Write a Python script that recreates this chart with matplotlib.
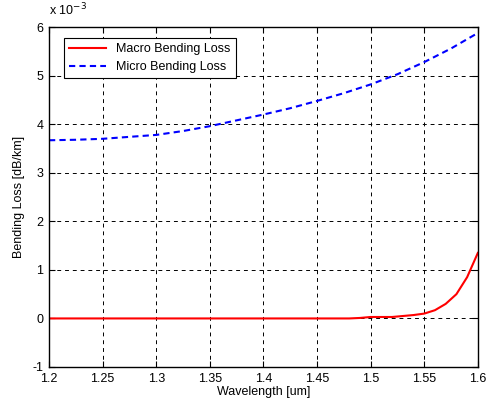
import numpy as np
import matplotlib.pyplot as plt

plt.rcParams['font.family'] = ['Liberation Sans', 'DejaVu Sans']
plt.rcParams['font.size'] = 9
plt.rcParams['axes.unicode_minus'] = False

# values in units of 1e-3 dB/km
micro_wl = [1.2, 1.225, 1.25, 1.275, 1.3, 1.325, 1.35, 1.375, 1.4, 1.425,
            1.45, 1.475, 1.5, 1.525, 1.55, 1.575, 1.6]
micro_loss = [3.67, 3.68, 3.70, 3.74, 3.78, 3.86, 3.96, 4.08, 4.20, 4.33,
              4.48, 4.64, 4.82, 5.03, 5.28, 5.56, 5.88]

macro_wl = [1.2, 1.48, 1.49, 1.5, 1.51, 1.52, 1.53, 1.54, 1.55, 1.56,
            1.57, 1.58, 1.59, 1.6]
macro_loss = [0, 0, 0.01, 0.03, 0.03, 0.03, 0.05, 0.07, 0.10, 0.17,
              0.30, 0.50, 0.85, 1.35]

fig = plt.figure(figsize=(4.89, 4.08), dpi=100)
ax = fig.add_axes([0.1002, 0.1005, 0.877, 0.833])

ax.plot(macro_wl, macro_loss, '-', color='red', lw=1.5, label='Macro Bending Loss')
ax.plot(micro_wl, micro_loss, '--', color='blue', lw=1.5, dashes=(3, 2),
        label='Micro Bending Loss')

ax.set_xlim(1.2, 1.6)
ax.set_ylim(-1, 6)
ax.set_xticks(np.arange(1.2, 1.6001, 0.05))
ax.set_xticklabels(['1.2', '1.25', '1.3', '1.35', '1.4', '1.45', '1.5', '1.55', '1.6'])
ax.set_yticks(range(-1, 7))
ax.grid(True, color='black', linestyle=(0, (4, 4)), lw=0.7)
ax.tick_params(direction='in', top=True, right=True, length=4, pad=4)
for s in ax.spines.values():
    s.set_linewidth(1.0)

ax.set_xlabel('Wavelength [um]', labelpad=1)
ax.set_ylabel('Bending Loss [dB/km]', labelpad=5)
ax.text(0.0, 1.025, r'x 10$^{-3}$', transform=ax.transAxes, ha='left', va='bottom')

leg = ax.legend(loc='upper left', bbox_to_anchor=(0.02, 0.985), fancybox=False,
                edgecolor='black', framealpha=1, handlelength=3.0,
                borderpad=0.4, labelspacing=0.45, borderaxespad=0.5)
leg.get_frame().set_linewidth(0.8)

fig.savefig('out.png', dpi=100)
